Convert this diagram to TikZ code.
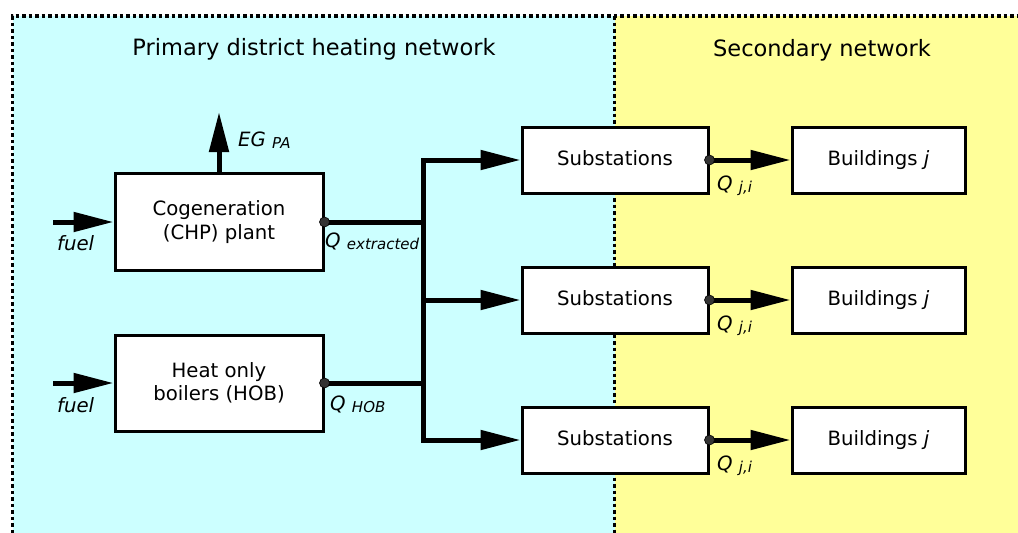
\documentclass[tikz,border=0pt]{standalone}
\usepackage{fontspec}
\setmainfont{DejaVu Sans}
\usetikzlibrary{arrows.meta}
\definecolor{cyanbg}{HTML}{CCFFFF}
\definecolor{yellowbg}{HTML}{FFFF99}
\definecolor{dotc}{HTML}{333333}
\newcommand\subsz{\fontsize{15}{17}\selectfont\itshape}
\begin{document}
\begin{tikzpicture}[x=1pt,y=-1pt,
  blk/.style={draw,line width=3pt,fill=white,inner sep=0pt,align=center,
    font=\fontsize{19.7}{23.5}\selectfont},
  flow/.style={line width=5pt,line join=miter,-{Triangle[length=40pt,width=19pt]}},
  bus/.style={line width=5pt,line join=miter},
  frame/.style={line width=3.5pt,dash pattern=on 3.5pt off 3pt},
  ttl/.style={font=\fontsize{22.5}{27}\selectfont,anchor=base},
  lbl/.style={font=\fontsize{19.7}{23}\selectfont\itshape,anchor=base west,inner sep=0pt},
  pt/.style={fill=dotc,draw=black,line width=0.6pt}]
\useasboundingbox (0,0) rectangle (1018,533);
% backgrounds
\fill[cyanbg] (12.5,16) rectangle (614.5,533);
\fill[yellowbg] (614.5,16) rectangle (1018,533);
\draw[frame] (12.5,533) -- (12.5,16) -- (1018,16);
\draw[frame] (614.5,16) -- (614.5,533);
% titles
\node[ttl] (t1) at (314,55) {Primary district heating network};
\node[ttl] (t2) at (822,56) {Secondary network};
% boxes
\node[blk,minimum width=208pt,minimum height=97pt] (chp) at (219,222) {Cogeneration\\(CHP) plant};
\node[blk,minimum width=208pt,minimum height=96pt] (hob) at (219,383) {\raisebox{2pt}{Heat only}\\\raisebox{2pt}{boilers (HOB)}};
\foreach \i/\y in {1/160,2/300,3/440}{
  \node[blk,minimum width=186pt,minimum height=66pt] (s\i) at (615,\y) {\raisebox{4pt}{Substations}};
  \node[blk,minimum width=173pt,minimum height=66pt] (b\i) at (878.5,\y) {\raisebox{4pt}{Buildings \textit{j}}};
}
% coordinates
\coordinate (f1) at (53,222);
\coordinate (f2) at (53,383);
\coordinate (eg) at (219,112);
\coordinate (bt) at (423,160);
\coordinate (bb) at (423,440);
% connectors
\draw[flow] (f1) -- (chp.west);
\draw[flow] (f2) -- (hob.west);
\draw[flow] (chp.north) -- (eg);
\draw[bus] (chp.east) -- (chp.east -| bt);
\draw[bus] (hob.east) -- (hob.east -| bt);
\draw[flow] (bb) -- (bt) -- (s1.west);
\draw[flow] (bt) -- (bb) -- (s3.west);
\draw[flow] (bt |- s2.west) -- (s2.west);
\foreach \i in {1,2,3}{
  \draw[flow] (s\i.east) -- (b\i.west);
  \fill[pt] (s\i.east) circle (5pt);
}
\fill[pt] (chp.east) circle (5pt);
\fill[pt] (hob.east) circle (5pt);
% labels
\node[lbl] (lf1) at (57,250) {fuel};
\node[lbl] (lf2) at (57,412) {fuel};
\node[lbl] (leg) at (238,146) {EG \raisebox{-2pt}{\subsz PA}};
\node[lbl] (lqe) at (325,247) {Q \raisebox{-2pt}{\subsz extracted}};
\node[lbl] (lqh) at (330,410) {Q \raisebox{-2pt}{\subsz HOB}};
\foreach \i/\y in {1/190,2/330,3/470}{
  \node[lbl] (lq\i) at (717,\y) {Q \raisebox{-2pt}{\subsz j,i}};
}
\end{tikzpicture}
\end{document}
